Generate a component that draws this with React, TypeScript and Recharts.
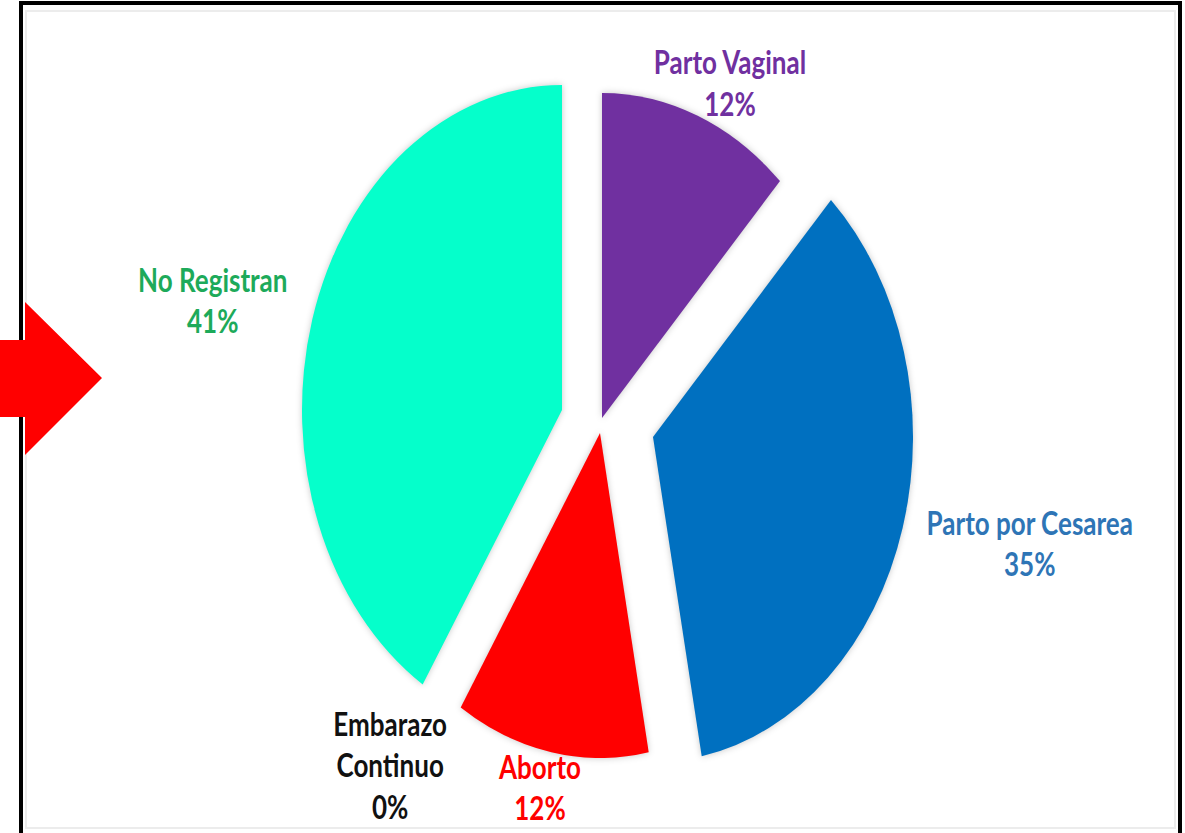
import React from 'react';
import { PieChart, Pie, Cell } from 'recharts';

// ---- data ----
const categories = ['Parto Vaginal', 'Parto por Cesarea', 'Embarazo Continuo', 'Aborto', 'No Registran'];
const percentages = [12, 35, 0, 12, 41];
const labelLines = [['Parto Vaginal'], ['Parto por Cesarea'], ['Embarazo', 'Continuo'], ['Aborto'], ['No Registran']];

// ---- styles ----
const sliceColors = ['#7030A0', '#0070C0', '#A5A5A5', '#FF0000', '#05FFCB'];
const labelColors = ['#7030A0', '#2E75B6', '#111111', '#FF0000', '#1DAA5A'];
const explodeOffsets: [number, number][] = [[1, -7], [52, 12], [0, 0], [-1, 8], [-39, -15]];
const labelGap = [43, 179, 84, 36, 141];
const labelShift = [3.6, -3.8, 48.6, 1.1, -1.7];

const W = 1185;
const H = 833;
const CX = 601;
const CY = 425;
const R = 260;
const SY = 1.25;
const FONT = 26;
const LH = 33;

const data = categories.map((name, i) => ({ name, value: percentages[i] }));

const renderLabel = (props: any) => {
  const { cx, cy, midAngle, outerRadius, index, value } = props;
  const a = ((midAngle - labelShift[index]) * Math.PI) / 180;
  const r = outerRadius + labelGap[index];
  const x = cx + r * Math.cos(a);
  const y = cy - r * Math.sin(a) * SY;
  const lines = [...labelLines[index], `${value}%`];
  const n = lines.length;
  return (
    <g key={`lbl-${index}`} transform={`translate(${x},${y}) scale(1,${SY})`}>
      <text
        textAnchor="middle"
        fill={labelColors[index]}
        fontFamily="Lato, 'Noto Sans', sans-serif"
        fontWeight="bold"
        fontSize={FONT}
      >
        {lines.map((ln, k) => (
          <tspan key={k} x={0} y={(k - (n - 1) / 2) * LH} dominantBaseline="central">
            {ln}
          </tspan>
        ))}
      </text>
    </g>
  );
};

export default function App() {
  return (
    <div
      style={{
        position: 'fixed',
        left: 0,
        top: 0,
        width: W,
        height: H,
        background: '#ffffff',
        overflow: 'hidden',
      }}
    >
      <div
        style={{
          position: 'absolute',
          left: 19,
          top: 1,
          width: 1163,
          height: 900,
          boxSizing: 'border-box',
          borderLeft: '4px solid #000',
          borderTop: '4px solid #000',
          borderRight: '4px solid #000',
        }}
      />
      <div
        style={{
          position: 'absolute',
          left: 25,
          top: 10,
          width: 1151,
          height: 819,
          boxSizing: 'border-box',
          border: '2px solid #ececec',
        }}
      />
      <div style={{ position: 'absolute', left: 0, top: 0 }}>
        <PieChart width={W} height={H} margin={{ top: 0, right: 0, bottom: 0, left: 0 }}>
          <Pie
            data={data}
            dataKey="value"
            nameKey="name"
            cx={CX}
            cy={CY}
            outerRadius={R}
            startAngle={90}
            endAngle={-270}
            stroke="none"
            labelLine={false}
            label={renderLabel}
            isAnimationActive={false}
          >
            {data.map((d, i) => (
              <Cell
                key={d.name}
                fill={sliceColors[i]}
                stroke="none"
                style={{
                  transform: `translate(${CX + explodeOffsets[i][0]}px, ${CY + explodeOffsets[i][1]}px) scale(1, ${SY}) translate(${-CX}px, ${-CY}px)`,
                  filter: 'drop-shadow(0px 0px 3px rgba(0,0,0,0.22))',
                  outline: 'none',
                }}
              />
            ))}
          </Pie>
        </PieChart>
      </div>
      <svg
        width={110}
        height={H}
        style={{ position: 'absolute', left: 0, top: 0 }}
      >
        <polygon points="0,340 25,340 25,302 102,378 25,455 25,417 0,417" fill="#FF0000" />
      </svg>
    </div>
  );
}
